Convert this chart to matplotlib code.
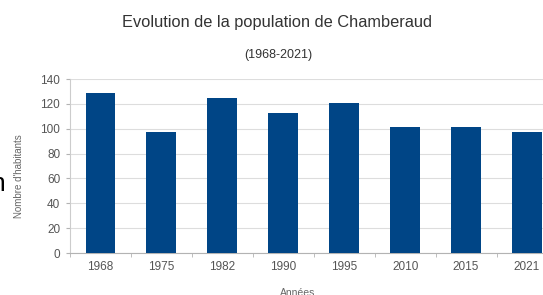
import numpy as np
import matplotlib
matplotlib.use('Agg')
import matplotlib.pyplot as plt

plt.rcParams['font.family'] = ['Liberation Sans', 'DejaVu Sans']

# données
annees = ['1968', '1975', '1982', '1990', '1995', '2010', '2015', '2021']
habitants = [129, 97, 125, 113, 121, 101, 101, 97]
yticks = [0, 20, 40, 60, 80, 100, 120, 140]

W, H = 543, 295
fig = plt.figure(figsize=(W / 100, H / 100), dpi=100)
fig.patch.set_facecolor('white')

# axe qui déborde à droite (capture coupée)
x0, x1, y0, y1 = 70, 557.5, 253, 79
ax = fig.add_axes([x0 / W, 1 - y0 / H, (x1 - x0) / W, (y0 - y1) / H])

x = np.arange(len(annees))
ax.bar(x, habitants, width=0.49, color='#004586', zorder=3)

ax.set_xlim(-0.5, len(annees) - 0.5)
ax.set_ylim(0, 140)
ax.set_yticks(yticks)
ax.set_yticklabels([str(v) for v in yticks], fontsize=8.5, color='#555555')
ax.set_xticks(x)
ax.set_xticklabels(annees, fontsize=8.5, color='#555555')
ax.set_xticks(np.arange(len(annees) + 1) - 0.5, minor=True)
ax.tick_params(axis='x', which='major', length=0, pad=6)
ax.tick_params(axis='x', which='minor', length=3, color='#b3b3b3')
ax.tick_params(axis='y', length=3, color='#b3b3b3', pad=4)

ax.grid(axis='y', color='#dddddd', linewidth=0.8, zorder=0)
for s in ['top', 'right']:
    ax.spines[s].set_visible(False)
ax.spines['left'].set_color('#cccccc')
ax.spines['bottom'].set_color('#b3b3b3')

fig.text(19 / W, 1 - 176 / H, "Nombre d'habitants", rotation=90,
         ha='center', va='center', fontsize=7, color='#666666')
fig.text(298 / W, 1 - 287.5 / H, 'Années', ha='center', va='top',
         fontsize=7.5, color='#666666')

fig.text(277 / W, 1 - 23 / H, 'Evolution de la population de Chamberaud',
         ha='center', va='center', fontsize=11.8, color='#333333')
fig.text(278 / W, 1 - 55 / H, '(1968-2021)',
         ha='center', va='center', fontsize=9, color='#333333')
fig.text(5 / W, 1 - 184 / H, 'n', ha='right', va='center',
         fontsize=19, color='black')

fig.savefig('out.png', dpi=100)
